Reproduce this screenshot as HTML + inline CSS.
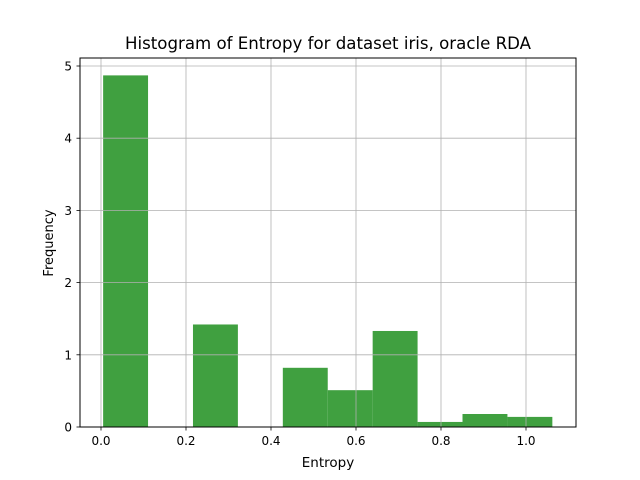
<!DOCTYPE html>
<html><head><meta charset="utf-8"><style>body{margin:0;background:#fff}svg{display:block;font-family:"DejaVu Sans","Liberation Sans",sans-serif}</style></head>
<body>
<svg width="640" height="480" viewBox="0 0 640 480">
<rect width="640" height="480" fill="#fff"/>
<g id="bars"></g>
<g id="grid"></g>
<rect x="80" y="58" width="496" height="369" fill="none" stroke="#000" stroke-width="1"/>
<g id="ticks"></g>
<text x="328" y="49" text-anchor="middle" font-size="16.6" textLength="406" lengthAdjust="spacingAndGlyphs">Histogram of Entropy for dataset iris, oracle RDA</text>
<text x="328" y="467" text-anchor="middle" font-size="13.5">Entropy</text>
<text x="53" y="243" text-anchor="middle" font-size="13" transform="rotate(-90 53 243)">Frequency</text>
</svg>
<script>
const binStart = 0.005;
const binEnd = 1.062;
const counts = [4.87, 0, 1.42, 0, 0.82, 0.51, 1.33, 0.07, 0.18, 0.14];
const xTicks = [0.0, 0.2, 0.4, 0.6, 0.8, 1.0];
const xTickLabels = ["0.0", "0.2", "0.4", "0.6", "0.8", "1.0"];
const yTicks = [0, 1, 2, 3, 4, 5];
const yTickLabels = ["0", "1", "2", "3", "4", "5"];

const NS = "http://www.w3.org/2000/svg";
const xs = v => 101 + v * 425;
const ys = v => 427 - v * 72.2;
function mk(tag, attrs, parent) {
  const e = document.createElementNS(NS, tag);
  for (const k in attrs) e.setAttribute(k, attrs[k]);
  parent.appendChild(e);
  return e;
}
const bars = document.getElementById('bars');
const grid = document.getElementById('grid');
const ticks = document.getElementById('ticks');
const w = (binEnd - binStart) / counts.length;
counts.forEach((c, i) => {
  if (c <= 0) return;
  const x0 = xs(binStart + i * w), x1 = xs(binStart + (i + 1) * w);
  const r = mk('rect', {x: x0, y: ys(c), width: x1 - x0, height: ys(0) - ys(c), fill: 'rgb(64,160,64)'}, bars);
  
  
});
xTicks.forEach((t, i) => {
  const x = xs(t);
  const g = mk('line', {x1: x, x2: x, y1: 58, y2: 427, stroke: '#b0b0b0', 'stroke-width': 0.8}, grid);
  
  
  mk('line', {x1: x, x2: x, y1: 427, y2: 430.5, stroke: '#000', 'stroke-width': 0.8}, ticks);
  const tx = mk('text', {x: x, y: 445, 'text-anchor': 'middle', 'font-size': 12}, ticks);
  tx.textContent = xTickLabels[i];
  
  
});
yTicks.forEach((t, i) => {
  const y = ys(t);
  const g = mk('line', {x1: 80, x2: 576, y1: y, y2: y, stroke: '#b0b0b0', 'stroke-width': 0.8}, grid);
  
  
  mk('line', {x1: 76.5, x2: 80, y1: y, y2: y, stroke: '#000', 'stroke-width': 0.8}, ticks);
  const tx = mk('text', {x: 72, y: y + 4.5, 'text-anchor': 'end', 'font-size': 12}, ticks);
  tx.textContent = yTickLabels[i];
  
  
});
</script>
</body></html>
